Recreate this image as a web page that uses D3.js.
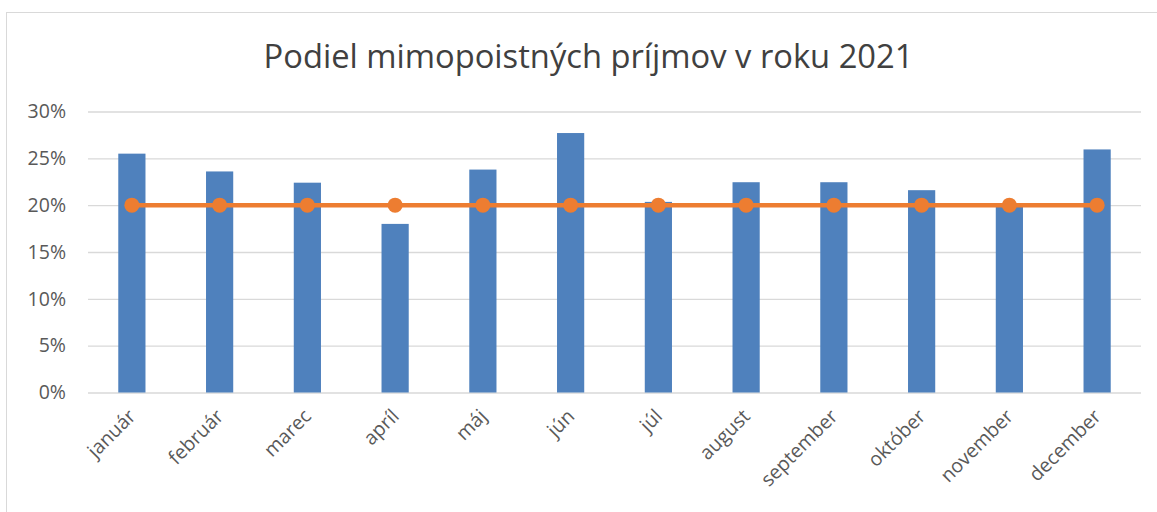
<!DOCTYPE html>
<html>
<head>
<meta charset="utf-8">
<script src="https://cdn.jsdelivr.net/npm/d3@7"></script>
<style>
html,body{margin:0;padding:0;background:#fff;}
svg{display:block;}
</style>
</head>
<body>
<svg id="chart" width="1157" height="512"></svg>
<script>
const months = ["január","február","marec","apríl","máj","jún","júl","august","september","október","november","december"];
const shareValues = [25.5, 23.6, 22.4, 18.0, 23.8, 27.7, 20.35, 22.45, 22.45, 21.6, 19.9, 25.95];
const targetValues = [20,20,20,20,20,20,20,20,20,20,20,20];
const yTicks = [0,5,10,15,20,25,30];
const titleText = "Podiel mimopoistných príjmov v roku 2021";

const W = 1157, H = 512;
const margin = {left: 88, right: 16, top: 111.5, bottom: 119.5};
const svg = d3.select("#chart");
const font = "'Open Sans', 'Liberation Sans', sans-serif";

// chart border
svg.append("rect").attr("x",6.5).attr("y",12.5).attr("width",W+20).attr("height",H+20)
  .attr("fill","#fff").attr("stroke","#d9d9d9").attr("stroke-width",1);

const x = d3.scaleBand().domain(months).range([margin.left, W - margin.right]).paddingInner(0.69).paddingOuter(0.345);
const y = d3.scaleLinear().domain([0,30]).range([H - margin.bottom, margin.top]);

// title
svg.append("text").attr("x",588.5).attr("y",68).attr("text-anchor","middle")
  .attr("font-family",font).attr("font-size",32.7).attr("fill","#404040").text(titleText);

// gridlines
const yAxis = d3.axisLeft(y).tickValues(yTicks).tickSize(-(W - margin.right - margin.left)).tickPadding(22).tickFormat(d => d + "%");
const gy = svg.append("g").attr("transform",`translate(${margin.left},0)`).call(yAxis);
gy.select(".domain").remove();
gy.selectAll(".tick line").attr("stroke","#d9d9d9").attr("stroke-width",1.3);
gy.selectAll(".tick text").attr("font-family",font).attr("font-size",19.5).attr("fill","#595959");

// bars
svg.append("g").selectAll("rect").data(months).join("rect")
  .attr("x", d => x(d)).attr("width", x.bandwidth())
  .attr("y", (d,i) => y(shareValues[i])).attr("height", (d,i) => y(0) - y(shareValues[i]))
  .attr("fill","#4f81bd");

// x axis
const xAxis = d3.axisBottom(x).tickSize(0).tickPadding(0);
const gx = svg.append("g").attr("transform",`translate(0,${y(0)})`).call(xAxis);
gx.select(".domain").remove();
gx.selectAll(".tick text")
  .attr("font-family",font).attr("font-size",19.5).attr("fill","#595959")
  .attr("text-anchor","end").attr("dy",null).attr("y",0)
  .attr("transform","translate(5,25) rotate(-45)");

// line
const cx = d => x(d) + x.bandwidth()/2;
const line = d3.line().x((d,i) => cx(months[i])).y(d => y(d));
svg.append("path").datum(targetValues).attr("d", line)
  .attr("fill","none").attr("stroke","#ed7d31").attr("stroke-width",4.5).attr("stroke-linecap","round");
svg.append("g").selectAll("circle").data(targetValues).join("circle")
  .attr("cx",(d,i) => cx(months[i])).attr("cy", d => y(d)).attr("r",7.5).attr("fill","#ed7d31");
</script>
</body>
</html>
